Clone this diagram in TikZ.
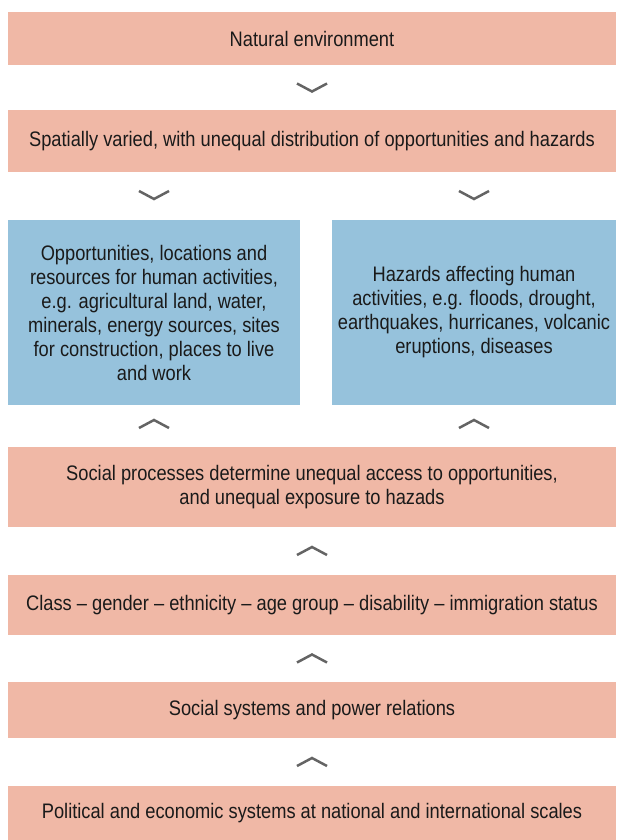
\documentclass[tikz,border=0pt]{standalone}
\usepackage{fontspec}
\setmainfont{Liberation Sans}[FakeStretch=0.87]
\usetikzlibrary{calc}
\definecolor{boxpink}{RGB}{240,184,166}
\definecolor{boxblue}{RGB}{150,194,220}
\definecolor{chevgray}{RGB}{100,100,100}
\definecolor{textdark}{RGB}{26,26,26}
\begin{document}
\begin{tikzpicture}[x=1pt, y=-1pt, font=\fontsize{21}{24}\selectfont, text=textdark,
        every node/.style={inner sep=0pt, outer sep=0pt, align=center, anchor=north west},
        pinkbox/.style={fill=boxpink, minimum width=608pt},
        bluebox/.style={fill=boxblue, minimum height=185pt},
        chev/.style={draw=chevgray, line width=2.5pt, line cap=butt, line join=miter}]
    \useasboundingbox (0,0) rectangle (616,840);
    % boxes, top to bottom
    \node[pinkbox, minimum height=53pt] (nat) at (8,12) {Natural environment};
    \node[pinkbox, minimum height=62pt] (spat) at (8,110) {Spatially varied, with unequal distribution of opportunities and hazards};
    \node[bluebox, minimum width=292pt] (opp) at (8,220) {Opportunities, locations and\\resources for human activities,\\e.g. agricultural land, water,\\minerals, energy sources, sites\\for construction, places to live\\and work};
    \node[bluebox, minimum width=284pt] (haz) at (332,220) {Hazards affecting human\\activities, e.g. floods, drought,\\earthquakes, hurricanes, volcanic\\eruptions, diseases};
    \node[pinkbox, minimum height=80pt] (proc) at (8,447) {Social processes determine unequal access to opportunities,\\and unequal exposure to hazads};
    \node[pinkbox, minimum height=60pt] (cls) at (8,575) {Class -- gender -- ethnicity -- age group -- disability -- immigration status};
    \node[pinkbox, minimum height=56pt] (sys) at (8,682) {Social systems and power relations};
    \node[pinkbox, minimum height=54pt] (pol) at (8,786) {Political and economic systems at national and international scales};
    % down chevrons
    \draw[chev] ($(nat.south)!.5!(spat.north)$) ++(-15,-4) -- ++(15,8) -- ++(15,-8);
    \draw[chev] ($(opp.north)+(0,-25)$) ++(-15,-4) -- ++(15,8) -- ++(15,-8);
    \draw[chev] ($(haz.north)+(0,-25)$) ++(-15,-4) -- ++(15,8) -- ++(15,-8);
    % up chevrons
    \draw[chev] ($(opp.south)+(0,19)$) ++(-15,4) -- ++(15,-8) -- ++(15,8);
    \draw[chev] ($(haz.south)+(0,19)$) ++(-15,4) -- ++(15,-8) -- ++(15,8);
    \draw[chev] ($(proc.south)!.5!(cls.north)$) ++(-15,4) -- ++(15,-8) -- ++(15,8);
    \draw[chev] ($(cls.south)!.5!(sys.north)$) ++(-15,4) -- ++(15,-8) -- ++(15,8);
    \draw[chev] ($(sys.south)!.5!(pol.north)$) ++(-15,4) -- ++(15,-8) -- ++(15,8);
\end{tikzpicture}
\end{document}
